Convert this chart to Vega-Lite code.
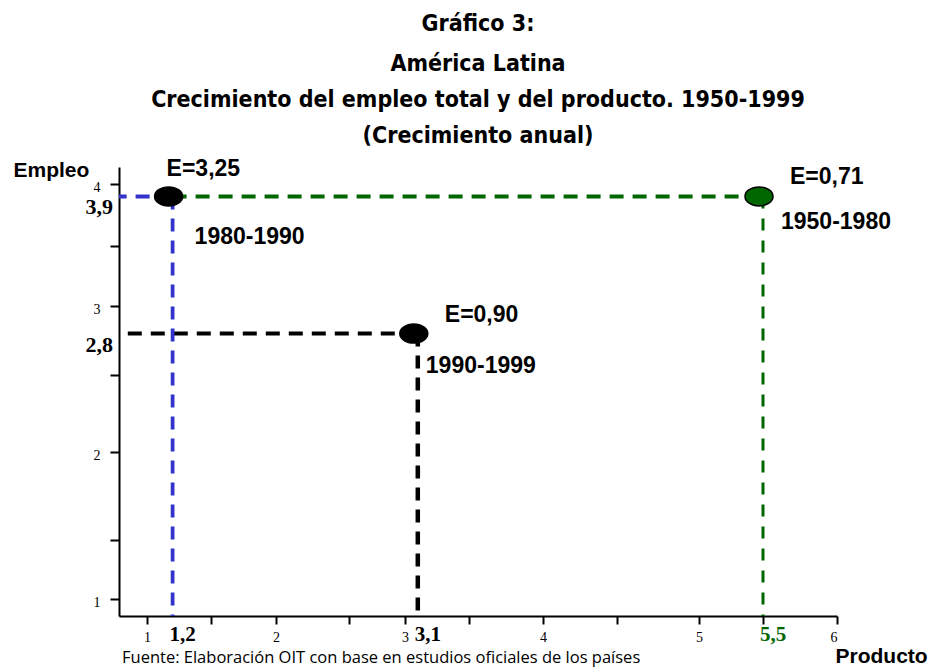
{
  "$schema": "https://vega.github.io/schema/vega-lite/v6.json",
  "width": 718,
  "height": 449,
  "autosize": {"type": "none"},
  "padding": {"left": 119, "top": 167, "right": 99, "bottom": 54},
  "background": "white",
  "config": {"view": {"stroke": null}},
  "title": {
    "text": "Gráfico 3:",
    "subtitle": ["América Latina", "Crecimiento del empleo total y del producto. 1950-1999", "(Crecimiento anual)"],
    "anchor": "middle",
    "frame": "group",
    "font": "DejaVu Sans Condensed, Liberation Sans Narrow, Liberation Sans, sans-serif",
    "fontSize": 23,
    "fontWeight": "bold",
    "color": "#000000",
    "subtitleFont": "DejaVu Sans Condensed, Liberation Sans Narrow, Liberation Sans, sans-serif",
    "subtitleFontSize": 23,
    "subtitleFontWeight": "bold",
    "subtitleColor": "#000000",
    "subtitleLineHeight": 36,
    "subtitlePadding": 17,
    "offset": 10
  },
  "datasets": {
    "periodos": [
      {"periodo": "1950-1980", "producto": 5.5, "empleo": 3.9, "elasticidad": 0.71, "desde": 1.2},
      {"periodo": "1980-1990", "producto": 1.2, "empleo": 3.9, "elasticidad": 3.25},
      {"periodo": "1990-1999", "producto": 3.1, "empleo": 2.8, "elasticidad": 0.90}
    ],
    "nota": [{"texto": "Fuente: Elaboración OIT con base en estudios oficiales de los países"}]
  },
  "data": {"name": "periodos"},
  "encoding": {
    "x": {
      "field": "producto",
      "type": "quantitative",
      "scale": {
        "domain": [0.783, 1, 1.5, 2, 2.5, 3, 3.5, 4, 4.5, 5, 5.5, 6],
        "range": [0, 28, 92, 157, 230, 286, 350, 424, 498, 580, 644, 718],
        "nice": false,
        "zero": false
      },
      "axis": {
        "values": [1, 1.5, 2, 2.5, 3, 3.5, 4, 4.5, 5, 5.5, 6],
        "labelExpr": "datum.value % 1 === 0 ? format(datum.value, 'd') : ''",
        "grid": false,
        "domainColor": "#000000",
        "domainWidth": 2,
        "tickColor": "#000000",
        "tickWidth": 2,
        "tickSize": 8,
        "labelFont": "Liberation Serif",
        "labelFontSize": 14,
        "labelColor": "#000000",
        "labelPadding": 6,
        "title": "Producto",
        "titleFont": "Liberation Sans",
        "titleFontSize": 21,
        "titleFontWeight": "bold",
        "titleColor": "#000000",
        "titleAnchor": "start",
        "titleAlign": "left",
        "titleBaseline": "middle",
        "titleX": 716,
        "titleY": 40
      }
    },
    "y": {
      "field": "empleo",
      "type": "quantitative",
      "scale": {
        "domain": [0.856, 1, 1.5, 2, 2.5, 3, 3.5, 4, 4.137],
        "range": [449, 432, 373, 285, 208, 139, 79, 17, 0],
        "nice": false,
        "zero": false
      },
      "axis": {
        "values": [1, 1.5, 2, 2.5, 3, 3.5, 4],
        "labelExpr": "datum.value % 1 === 0 ? format(datum.value, 'd') : ''",
        "grid": false,
        "domainColor": "#000000",
        "domainWidth": 2,
        "tickColor": "#000000",
        "tickWidth": 2,
        "tickSize": 9,
        "labelFont": "Liberation Serif",
        "labelFontSize": 14,
        "labelColor": "#000000",
        "labelPadding": 10,
        "labelOffset": 3,
        "title": "Empleo",
        "titleFont": "Liberation Sans",
        "titleFontSize": 21,
        "titleFontWeight": "bold",
        "titleColor": "#000000",
        "titleAngle": 0,
        "titleAlign": "left",
        "titleBaseline": "middle",
        "titleX": -106,
        "titleY": 3
      }
    }
  },
  "layer": [
    {
      "transform": [{"filter": "!isValid(datum.desde)"}],
      "mark": {"type": "rule", "strokeWidth": 4, "strokeDash": [14, 9]},
      "encoding": {
        "x2": {"value": 0},
        "color": {
          "field": "periodo",
          "type": "nominal",
          "scale": {"domain": ["1950-1980", "1980-1990", "1990-1999"], "range": ["#006600", "#3333cc", "#000000"]},
          "legend": null
        }
      }
    },
    {
      "transform": [{"filter": "isValid(datum.desde)"}],
      "mark": {"type": "rule", "strokeWidth": 4, "strokeDash": [14, 9]},
      "encoding": {
        "x": {"field": "desde", "type": "quantitative"},
        "x2": {"field": "producto"},
        "color": {"field": "periodo", "type": "nominal", "legend": null}
      }
    },
    {
      "mark": {"type": "rule"},
      "encoding": {
        "y2": {"value": "height"},
        "color": {"field": "periodo", "type": "nominal", "legend": null},
        "strokeWidth": {
          "field": "periodo",
          "type": "nominal",
          "scale": {"domain": ["1950-1980", "1980-1990", "1990-1999"], "range": [3, 4.5, 5]},
          "legend": null
        },
        "strokeDash": {
          "field": "periodo",
          "type": "nominal",
          "scale": {"domain": ["1950-1980", "1980-1990", "1990-1999"], "range": [[12, 10], [13, 9], [13, 9]]},
          "legend": null
        }
      }
    },
    {
      "mark": {
        "type": "point",
        "shape": "M -1 0 A 1 0.68 0 1 1 1 0 A 1 0.68 0 1 1 -1 0 Z",
        "size": 784,
        "filled": true,
        "opacity": 1,
        "stroke": "#000000",
        "strokeWidth": 1.5,
        "xOffset": -4
      },
      "encoding": {
        "fill": {
          "field": "periodo",
          "type": "nominal",
          "scale": {"domain": ["1950-1980", "1980-1990", "1990-1999"], "range": ["#006600", "#000000", "#000000"]},
          "legend": null
        }
      }
    },
    {
      "transform": [
        {"filter": "datum.periodo === '1980-1990'"},
        {"calculate": "'E=' + replace(format(datum.elasticidad, '.2f'), '.', ',')", "as": "etiqueta"}
      ],
      "mark": {"type": "text", "align": "left", "baseline": "middle", "dx": -6, "dy": -27, "font": "Liberation Sans", "fontSize": 23, "fontWeight": "bold", "fill": "#000000"},
      "encoding": {"text": {"field": "etiqueta"}}
    },
    {
      "transform": [
        {"filter": "datum.periodo !== '1980-1990'"},
        {"calculate": "'E=' + replace(format(datum.elasticidad, '.2f'), '.', ',')", "as": "etiqueta"}
      ],
      "mark": {"type": "text", "align": "left", "baseline": "middle", "dx": 27, "dy": -19, "font": "Liberation Sans", "fontSize": 23, "fontWeight": "bold", "fill": "#000000"},
      "encoding": {"text": {"field": "etiqueta"}}
    },
    {
      "transform": [{"filter": "datum.periodo === '1980-1990'"}],
      "mark": {"type": "text", "align": "left", "baseline": "middle", "dx": 22, "dy": 41, "font": "Liberation Sans", "fontSize": 23, "fontWeight": "bold", "fill": "#000000"},
      "encoding": {"text": {"field": "periodo"}}
    },
    {
      "transform": [{"filter": "datum.periodo === '1950-1980'"}],
      "mark": {"type": "text", "align": "left", "baseline": "middle", "dx": 18, "dy": 26, "font": "Liberation Sans", "fontSize": 23, "fontWeight": "bold", "fill": "#000000"},
      "encoding": {"text": {"field": "periodo"}}
    },
    {
      "transform": [{"filter": "datum.periodo === '1990-1999'"}],
      "mark": {"type": "text", "align": "left", "baseline": "middle", "dx": 8, "dy": 32, "font": "Liberation Sans", "fontSize": 23, "fontWeight": "bold", "fill": "#000000"},
      "encoding": {"text": {"field": "periodo"}}
    },
    {
      "transform": [
        {"filter": "datum.periodo !== '1950-1980'"},
        {"calculate": "replace(format(datum.empleo, '.1f'), '.', ',')", "as": "etiqueta"}
      ],
      "mark": {"type": "text", "align": "right", "baseline": "middle", "dx": -6, "dy": 11, "font": "Liberation Serif", "fontSize": 22, "fontWeight": "bold", "fill": "#000000"},
      "encoding": {"x": {"value": 0}, "text": {"field": "etiqueta"}}
    },
    {
      "transform": [
        {"calculate": "replace(format(datum.producto, '.1f'), '.', ',')", "as": "etiqueta"}
      ],
      "mark": {"type": "text", "align": "center", "baseline": "middle", "dx": 10, "dy": 19, "font": "Liberation Serif", "fontSize": 21, "fontWeight": "bold"},
      "encoding": {
        "y": {"value": "height"},
        "text": {"field": "etiqueta"},
        "fill": {"field": "periodo", "type": "nominal", "legend": null}
      }
    },
    {
      "data": {"name": "nota"},
      "mark": {"type": "text", "align": "left", "baseline": "middle", "dx": 3, "dy": 42, "font": "Open Sans", "fontSize": 16.5, "fill": "#000000"},
      "encoding": {"x": {"value": 0}, "y": {"value": "height"}, "text": {"field": "texto"}}
    }
  ]
}
